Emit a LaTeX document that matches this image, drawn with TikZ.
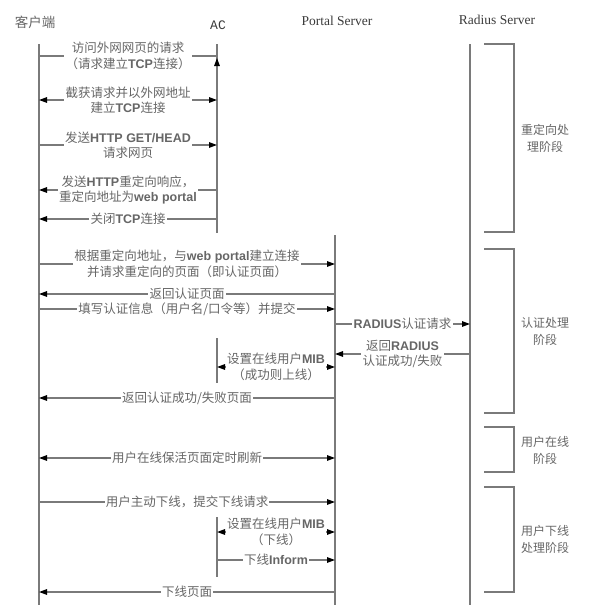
\documentclass[tikz,border=0pt]{standalone}
\usepackage{fontspec}
\setmainfont{Liberation Serif}
\newfontfamily\cjk{Noto Sans CJK SC}
\newfontfamily\monof{Liberation Mono}
\newfontfamily\latf{Liberation Sans}
\newcommand\La[1]{{\latf\bfseries #1}}
\usetikzlibrary{arrows.meta}
\definecolor{ln}{HTML}{7A7A7A}
\definecolor{txt}{HTML}{666666}
\definecolor{hd}{HTML}{3A3A3A}
\tikzset{
  life/.style={draw=ln, line width=1.6pt},
  tip/.tip={Triangle[length=8pt,width=5.5pt,color=black]},
  msgR/.style={draw=ln, line width=1.3pt, -tip},
  msgL/.style={draw=ln, line width=1.3pt, tip-},
  msgB/.style={draw=ln, line width=1.3pt, tip-tip},
  msgN/.style={draw=ln, line width=1.3pt},
  lbl/.style={fill=white, inner sep=1.2pt, text=txt, align=center,
    font=\cjk\fontsize{12.5}{15.5}\selectfont},
  brk/.style={draw=ln, line width=1.5pt},
  blbl/.style={text=txt, align=center, inner sep=0pt,
    font=\cjk\fontsize{12}{17}\selectfont},
  hdr/.style={text=hd, inner sep=0pt, font=\fontsize{13.5}{16}\selectfont}
}
\begin{document}
\begin{tikzpicture}[x=1pt,y=-1pt]
\useasboundingbox (0,0) rectangle (590,608);
% headers
\node[hdr, text=txt, font=\cjk\fontsize{13.5}{16}\selectfont] (hC) at (35,22) {客户端};
\node[hdr, font=\monof\fontsize{13}{16}\selectfont] (hA) at (218,25) {AC};
\node[hdr] (hP) at (337,21) {Portal Server};
\node[hdr] (hR) at (497,20) {Radius Server};
% lifelines
\coordinate (Ct) at (39,44);  \coordinate (Cb) at (39,605);
\coordinate (At) at (217,44); \coordinate (Ab) at (217,233);
\coordinate (A2t) at (217,338); \coordinate (A2b) at (217,383);
\coordinate (A3t) at (217,517); \coordinate (A3b) at (217,577);
\coordinate (Pt) at (335,235); \coordinate (Pb) at (335,605);
\coordinate (Rt) at (470,44); \coordinate (Rb) at (470,605);
\draw[life] (Ct) -- (Cb);
\draw[life] (At) -- (Ab);
\draw[life] (A2t) -- (A2b);
\draw[life] (A3t) -- (A3b);
\draw[life] (Pt) -- (Pb);
\draw[life] (Rt) -- (Rb);
% rows
\foreach \n/\y in {1/56,2/100,3/145,4/190,5/219,6/264,7/294,8/309,9/324,10/354,11/367,12/398,13/458,14/502,15/532,16/560,17/592}
  \coordinate (r\n) at (0,\y);
% redirect phase
\draw[msgN] (Ct|-r1) -- node[lbl] (t1) {访问外网网页的请求\\（请求建立\La{TCP}连接）} (At|-r1);
\coordinate (m1) at (At|-r1);
\draw[draw=ln, line width=1.3pt, -tip] (m1) ++(0,10) coordinate (m1b) -- ++(0,-8);
\draw[msgB] (Ct|-r2) -- node[lbl] (t2) {截获请求并以外网地址\\建立\La{TCP}连接} (At|-r2);
\draw[msgR] (Ct|-r3) -- node[lbl] (t3) {发送\La{HTTP GET/HEAD}\\请求网页} (At|-r3);
\draw[msgL] (Ct|-r4) -- node[lbl] (t4) {发送\La{HTTP}重定向响应，\\重定向地址为\La{web portal}} (At|-r4);
\draw[msgL] (Ct|-r5) -- node[lbl] (t5) {关闭\La{TCP}连接} (At|-r5);
% auth phase
\draw[msgR] (Ct|-r6) -- node[lbl] (t6) {根据重定向地址，与\La{web portal}建立连接\\并请求重定向的页面（即认证页面）} (Pt|-r6);
\draw[msgL] (Ct|-r7) -- node[lbl] (t7) {返回认证页面} (Pt|-r7);
\draw[msgR] (Ct|-r8) -- node[lbl] (t8) {填写认证信息（用户名/口令等）并提交} (Pt|-r8);
\draw[msgR] (Pt|-r9) -- node[lbl] (t9) {\La{RADIUS}认证请求} (Rt|-r9);
\draw[msgL] (Pt|-r10) -- node[lbl] (t10) {返回\La{RADIUS}\\认证成功/失败} (Rt|-r10);
\draw[msgB] (At|-r11) -- node[lbl] (t11) {设置在线用户\La{MIB}\\（成功则上线）} (Pt|-r11);
\draw[msgL] (Ct|-r12) -- node[lbl] (t12) {返回认证成功/失败页面} (Pt|-r12);
% online phase
\draw[msgB] (Ct|-r13) -- node[lbl] (t13) {用户在线保活页面定时刷新} (Pt|-r13);
% offline phase
\draw[msgR] (Ct|-r14) -- node[lbl] (t14) {用户主动下线，提交下线请求} (Pt|-r14);
\draw[msgB] (At|-r15) -- node[lbl] (t15) {设置在线用户\La{MIB}\\（下线）} (Pt|-r15);
\draw[msgR] (At|-r16) -- node[lbl] (t16) {下线\La{Inform}} (Pt|-r16);
\draw[msgL] (Ct|-r17) -- node[lbl] (t17) {下线页面} (Pt|-r17);
% brackets
\draw[brk] (484,44) -- (514,44) -- (514,232) -- (484,232);
\draw[brk] (484,249) -- (514,249) -- (514,413) -- (484,413);
\draw[brk] (484,427) -- (514,427) -- (514,472) -- (484,472);
\draw[brk] (484,487) -- (514,487) -- (514,592) -- (484,592);
\node[blbl] (b1) at (545,138) {重定向处\\理阶段};
\node[blbl] (b2) at (545,331) {认证处理\\阶段};
\node[blbl] (b3) at (545,450) {用户在线\\阶段};
\node[blbl] (b4) at (545,539) {用户下线\\处理阶段};
\end{tikzpicture}
\end{document}
